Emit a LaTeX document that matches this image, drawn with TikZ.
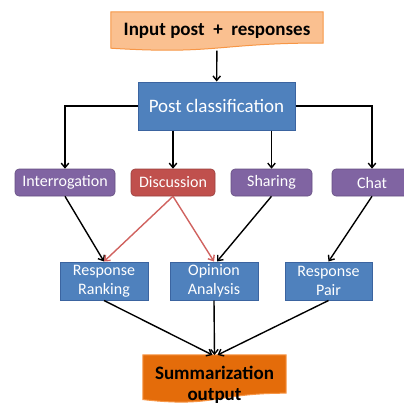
\documentclass[tikz,border=0pt]{standalone}
\usepackage{fontspec}
\setmainfont{Carlito}
\usetikzlibrary{arrows.meta,backgrounds}
\definecolor{inputfill}{HTML}{FAC090}
\definecolor{inputline}{HTML}{F79646}
\definecolor{blockblue}{HTML}{4F81BD}
\definecolor{blockline}{HTML}{3B64A0}
\definecolor{typepurple}{HTML}{8064A2}
\definecolor{typered}{HTML}{C0504D}
\definecolor{summfill}{HTML}{E46C0A}
\definecolor{redarrow}{HTML}{D0625F}
\tikzset{
  flowline/.style={line width=1.4pt,-{Straight Barb[length=4.5pt,width=7.5pt]}},
  blockbox/.style={draw=blockline,fill=blockblue,text=white,line width=1pt,inner sep=0pt,align=center},
  typebox/.style={draw=#1!80!black,fill=#1,rounded corners=4pt,text=white,line width=0.6pt,
    minimum height=27pt,inner sep=0pt,font=\fontsize{16}{19}\selectfont},
  docbox/.style={inner sep=0pt,align=center,font=\bfseries\fontsize{19}{21}\selectfont}
}
\begin{document}
\begin{tikzpicture}[x=1pt,y=-1pt]
    \clip (0,0) rectangle (404,402);

    % top and bottom document boxes
    \node[docbox,minimum width=212pt,minimum height=38.5pt] (input) at (217,31.25) {Input post \ + \ responses};
    \node[docbox,minimum width=143pt,minimum height=47.5pt] (summ) at (214.5,385) {Summarization\\output};
    \begin{scope}[on background layer]
        \filldraw[fill=inputfill,draw=inputline,line width=1pt]
            (input.north west) -- (input.north east) -- ([yshift=7.7pt]input.south east)
            .. controls ([yshift=7.7pt]input.south) and ([yshift=-4.1pt]input.south) .. ([yshift=2.5pt]input.south west) -- cycle;
        \filldraw[fill=summfill,draw=inputline,line width=1pt]
            ([yshift=6.25pt]summ.north west) -- ([yshift=6.25pt]summ.north east) -- ([yshift=15.75pt]summ.south east)
            .. controls ([yshift=15.75pt]summ.south) and ([yshift=1.1pt]summ.south) .. ([yshift=9.4pt]summ.south west) -- cycle;
    \end{scope}

    \node[blockbox,minimum width=157pt,minimum height=48pt,font=\fontsize{19}{22}\selectfont] (post) at (216.5,106) {Post classification};

    % post types
    \node[typebox=typepurple,minimum width=100pt] (inter) at (65,182.5) {Interrogation};
    \node[typebox=typered,minimum width=84pt] (disc) at (173,182.5) {Discussion};
    \node[typebox=typepurple,minimum width=81pt] (share) at (271.5,182.5) {Sharing};
    \node[typebox=typepurple,minimum width=80pt] (chat) at (372,182.5) {Chat};

    % methods
    \node[blockbox,minimum width=88pt,minimum height=38pt,font=\fontsize{16}{19}\selectfont] (rank) at (104,281) {Response\\Ranking};
    \node[blockbox,minimum width=88pt,minimum height=38pt,font=\fontsize{16}{19}\selectfont] (opin) at (214,281) {Opinion\\Analysis};
    \node[blockbox,minimum width=87pt,minimum height=38pt,font=\fontsize{16}{19}\selectfont] (pair) at (328.5,281) {Response\\Pair};

    \draw [flowline] (input) -- (post);
    \draw [flowline] (post.west) -| (inter.north);
    \draw [flowline] (post.east) -| (chat.north);
    \draw [flowline] (post.south -| disc.north) -- (disc.north);
    \draw [flowline] (post.south -| share.north) -- (share.north);

    \draw [flowline] (inter.south) -- (rank.north);
    \draw [flowline,draw=redarrow] (disc.south) -- (rank.north);
    \draw [flowline,draw=redarrow] (disc.south) -- (opin.north);
    \draw [flowline] (share.south) -- ([xshift=3pt]opin.north);
    \draw [flowline] (chat.south) -- (pair.north);

    \draw [flowline] (rank.south) -- ([xshift=-2pt]summ.north |- 0,355);
    \draw [flowline] (opin.south) -- (summ.north |- 0,355);
    \draw [flowline] (pair.south) -- ([xshift=3pt]summ.north |- 0,355);
\end{tikzpicture}
\end{document}
